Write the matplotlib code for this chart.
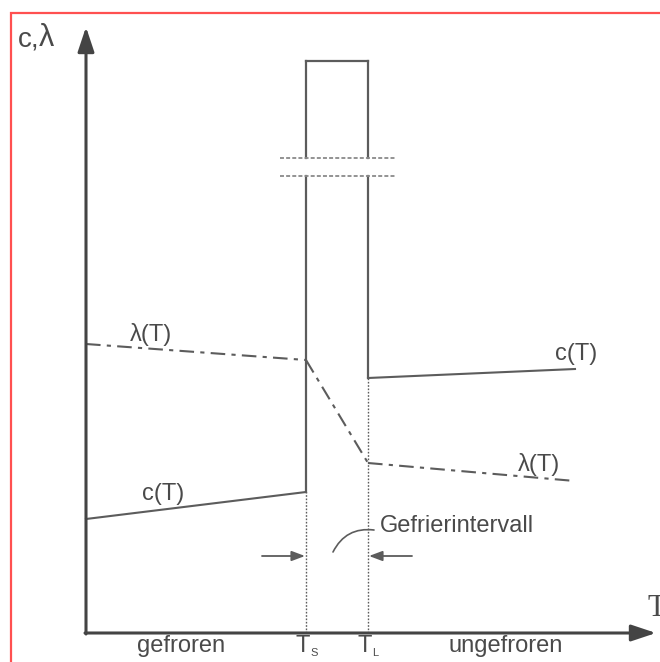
import matplotlib
matplotlib.use("Agg")
import matplotlib.pyplot as plt
from matplotlib.patches import Rectangle

# Temperature coordinates (origin at the axis corner)
T_S = 220            # solidus temperature
T_L = 282            # liquidus temperature
T_END = 489          # right end of the curves

# Thermal conductivity lambda(T)
lam_frozen_T = [0, T_S]
lam_frozen = [289, 273]
lam_trans_T = [T_S, T_L]
lam_trans = [273, 170]
lam_unfrozen_T = [T_L, T_END]
lam_unfrozen = [170, 152]

# Heat capacity c(T)
c_frozen_T = [0, T_S]
c_frozen = [114, 141]
c_unfrozen_T = [T_L, T_END]
c_unfrozen = [255, 264]

# Latent-heat peak inside the freezing interval (axis break)
peak_top = 572
break_low = 457
break_high = 475

LINE = "#5c5c5c"
TEXT = "#4a4a4a"
FONT = "Liberation Sans"
FS = 17

fig = plt.figure(figsize=(6.60, 6.62), dpi=100)
ax = fig.add_axes([0, 0, 1, 1])
ax.set_xlim(-86, 574)
ax.set_ylim(-29, 633)
ax.axis("off")

# Frame around the figure
fig.patches.append(Rectangle((11 / 660, -0.05), 1.2, (662 - 13) / 662 + 0.05,
                             transform=fig.transFigure, fill=False,
                             edgecolor="#ff5050", linewidth=1.6))

# Axes with arrowheads
ax.annotate("", xy=(0, 606), xytext=(0, -1),
            arrowprops=dict(arrowstyle="-|>,head_length=1.5,head_width=0.5",
                            mutation_scale=10, color="#444444", lw=2.2,
                            shrinkA=0, shrinkB=0))
ax.annotate("", xy=(570, 0), xytext=(-1, 0),
            arrowprops=dict(arrowstyle="-|>,head_length=1.5,head_width=0.5",
                            mutation_scale=10, color="#444444", lw=2.2,
                            shrinkA=0, shrinkB=0))

# Peak column
for T, low in ((T_S, c_frozen[1]), (T_L, c_unfrozen[0])):
    ax.plot([T, T], [low, break_low], color=LINE, lw=1.6)
    ax.plot([T, T], [break_high, peak_top], color=LINE, lw=1.6)
    ax.plot([T, T], [0, low], color=LINE, lw=1.0, ls=(0, (1.2, 1.2)))
ax.plot([T_S, T_L], [peak_top, peak_top], color=LINE, lw=1.6)

# Axis-break marks
for yb in (break_low, break_high):
    ax.plot([T_S - 26, T_L + 27], [yb, yb], color="#8a8a8a", lw=1.3,
            ls=(0, (2.2, 1.2)))

# lambda(T): dash-dot
dd = (0, (7, 3, 2, 3))
ax.plot(lam_frozen_T, lam_frozen, color=LINE, lw=1.5, ls=dd)
ax.plot(lam_trans_T, lam_trans, color=LINE, lw=1.5, ls=dd)
ax.plot(lam_unfrozen_T, lam_unfrozen, color=LINE, lw=1.5, ls=dd)

# c(T): solid
ax.plot(c_frozen_T, c_frozen, color=LINE, lw=1.5)
ax.plot(c_unfrozen_T, c_unfrozen, color=LINE, lw=1.5)

# Freezing-interval arrows
ax.annotate("", xy=(T_S - 1, 77), xytext=(T_S - 44, 77),
            arrowprops=dict(arrowstyle="-|>,head_length=0.8,head_width=0.3",
                            mutation_scale=10, color=LINE, lw=1.3,
                            shrinkA=0, shrinkB=0))
ax.annotate("", xy=(T_L + 1, 77), xytext=(T_L + 44, 77),
            arrowprops=dict(arrowstyle="-|>,head_length=0.8,head_width=0.3",
                            mutation_scale=10, color=LINE, lw=1.3,
                            shrinkA=0, shrinkB=0))
ax.annotate("", xy=(288, 103), xytext=(247, 81),
            arrowprops=dict(arrowstyle="-", color=LINE, lw=1.2,
                            connectionstyle="arc3,rad=-0.35",
                            shrinkA=0, shrinkB=0))

# Labels
ax.text(-68, 586, "c,", fontsize=20, color=TEXT, family=FONT,
        ha="left", va="baseline")
ax.text(-47, 587, "λ", fontsize=22, color=TEXT, family=FONT,
        ha="left", va="baseline")
ax.text(562, 17, "T", fontsize=22, color=TEXT, family="Liberation Serif",
        ha="left", va="baseline")

ax.text(44, 292, "λ(T)", fontsize=FS, color=TEXT, family=FONT,
        ha="left", va="baseline")
ax.text(56, 133, "c(T)", fontsize=FS, color=TEXT, family=FONT,
        ha="left", va="baseline")
ax.text(469, 273, "c(T)", fontsize=FS, color=TEXT, family=FONT,
        ha="left", va="baseline")
ax.text(432, 162, "λ(T)", fontsize=FS, color=TEXT, family=FONT,
        ha="left", va="baseline")
ax.text(294, 101, "Gefrierintervall", fontsize=FS, color=TEXT, family=FONT,
        ha="left", va="baseline")

ax.text(95, -19, "gefroren", fontsize=FS, color=TEXT, family=FONT,
        ha="center", va="baseline")
ax.text(420, -19, "ungefroren", fontsize=FS, color=TEXT, family=FONT,
        ha="center", va="baseline")
for T, sub in ((T_S, "S"), (T_L, "L")):
    ax.text(T + 4, -19, "T", fontsize=FS, color=TEXT, family=FONT,
            ha="right", va="baseline")
    ax.text(T + 4, -23, sub, fontsize=8, color=TEXT, family=FONT,
            ha="left", va="baseline")

fig.savefig("out.png", dpi=100)
